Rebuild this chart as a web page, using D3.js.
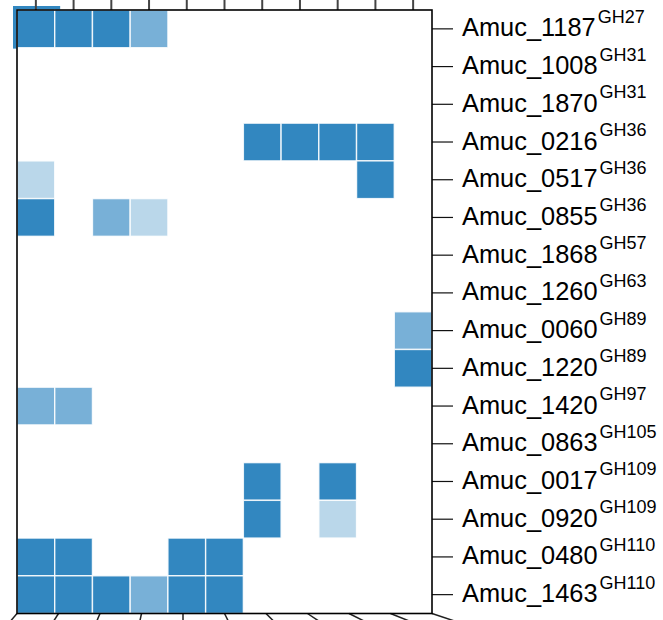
<!DOCTYPE html>
<html>
<head>
<meta charset="utf-8">
<script src="https://cdn.jsdelivr.net/npm/d3@7/dist/d3.min.js"></script>
<style>
  html, body { margin: 0; padding: 0; background: #fff; }
  svg { display: block; }
  text { font-family: "Liberation Sans", Arial, Helvetica, sans-serif; }
</style>
</head>
<body>
<svg id="chart" width="663" height="620"></svg>
<script>
// ---------------- data ----------------
const genes = ["Amuc_1187","Amuc_1008","Amuc_1870","Amuc_0216","Amuc_0517","Amuc_0855",
  "Amuc_1868","Amuc_1260","Amuc_0060","Amuc_1220","Amuc_1420","Amuc_0863",
  "Amuc_0017","Amuc_0920","Amuc_0480","Amuc_1463"];
const families = ["GH27","GH31","GH31","GH36","GH36","GH36","GH57","GH63","GH89","GH89",
  "GH97","GH105","GH109","GH109","GH110","GH110"];
const columns = ["C1","C2","C3","C4","C5","C6","C7","C8","C9","C10","C11"];
// expression level per gene (row) and column: 0 none, 1 low, 2 mid, 3 high
const values = [
  [3,3,3,2,0,0,0,0,0,0,0],
  [0,0,0,0,0,0,0,0,0,0,0],
  [0,0,0,0,0,0,0,0,0,0,0],
  [0,0,0,0,0,0,3,3,3,3,0],
  [1,0,0,0,0,0,0,0,0,3,0],
  [3,0,2,1,0,0,0,0,0,0,0],
  [0,0,0,0,0,0,0,0,0,0,0],
  [0,0,0,0,0,0,0,0,0,0,0],
  [0,0,0,0,0,0,0,0,0,0,2],
  [0,0,0,0,0,0,0,0,0,0,3],
  [2,2,0,0,0,0,0,0,0,0,0],
  [0,0,0,0,0,0,0,0,0,0,0],
  [0,0,0,0,0,0,3,0,3,0,0],
  [0,0,0,0,0,0,3,0,1,0,0],
  [3,3,0,0,3,3,0,0,0,0,0],
  [3,3,3,2,3,3,0,0,0,0,0]
];
const levels = [1, 2, 3];
const levelColors = ["#bad7ea", "#78b0d7", "#3287c0"];

// ---------------- layout ----------------
const svg = d3.select("#chart");
const x0 = 17, x1 = 432, y0 = 10, y1 = 613.5;

const x = d3.scaleBand().domain(columns).range([x0, x1]).padding(0);
const y = d3.scaleBand().domain(genes).range([y0, y1]).padding(0);
const color = d3.scaleOrdinal().domain(levels).range(levelColors);

// stray key square behind the top-left corner
svg.append("rect")
  .attr("x", x0 - 4).attr("y", y0 - 4)
  .attr("width", x.bandwidth() * 1.25).attr("height", y.bandwidth() * 1.13)
  .attr("fill", color(3));

// plot background
svg.append("rect")
  .attr("x", x0).attr("y", y0)
  .attr("width", x1 - x0).attr("height", y1 - y0)
  .attr("fill", "#fff");

// cells
const cells = [];
values.forEach((row, i) => row.forEach((v, j) => {
  if (v > 0) cells.push({ gene: genes[i], col: columns[j], v });
}));
svg.append("g").selectAll("rect").data(cells).join("rect")
  .attr("x", d => x(d.col))
  .attr("y", d => y(d.gene))
  .attr("width", x.bandwidth())
  .attr("height", y.bandwidth())
  .attr("fill", d => color(d.v))
  .attr("stroke", "#fff")
  .attr("stroke-opacity", 0.85)
  .attr("stroke-width", 1.4);

// top ticks (no labels visible)
svg.append("g").selectAll("line").data(columns).join("line")
  .attr("x1", d => x(d) + x.bandwidth() / 2)
  .attr("x2", d => x(d) + x.bandwidth() / 2)
  .attr("y1", y0 - 14).attr("y2", y0)
  .attr("stroke", "#444").attr("stroke-width", 2);

// bottom fanned ticks
const bx = d3.scalePoint().domain(columns).range([x0, x1]);
const slant = d3.scaleLinear().domain([0, 4, 10]).range([-0.85, 0, 3]);
svg.append("g").selectAll("line").data(columns).join("line")
  .attr("x1", d => bx(d))
  .attr("y1", y1)
  .attr("x2", (d, i) => bx(d) + slant(i) * 10)
  .attr("y2", y1 + 10)
  .attr("stroke", "#222").attr("stroke-width", 1.5);

// right axis ticks + labels
const right = svg.append("g");
right.selectAll("line").data(genes).join("line")
  .attr("x1", x1).attr("x2", x1 + 21)
  .attr("y1", d => y(d) + y.bandwidth() / 2)
  .attr("y2", d => y(d) + y.bandwidth() / 2)
  .attr("stroke", "#111").attr("stroke-width", 1.2);

const labels = right.selectAll("text").data(genes).join("text")
  .attr("x", x1 + 30)
  .attr("y", d => y(d) + y.bandwidth() / 2 + 7.5)
  .attr("font-size", 25.4)
  .attr("fill", "#000");
labels.append("tspan").text(d => d);
labels.append("tspan")
  .attr("font-size", 18)
  .attr("dx", 2)
  .attr("dy", -13.5)
  .text((d, i) => families[i]);

// frame
svg.append("rect")
  .attr("x", x0).attr("y", y0)
  .attr("width", x1 - x0).attr("height", y1 - y0)
  .attr("fill", "none")
  .attr("stroke", "#000").attr("stroke-width", 1.6);
</script>
</body>
</html>
